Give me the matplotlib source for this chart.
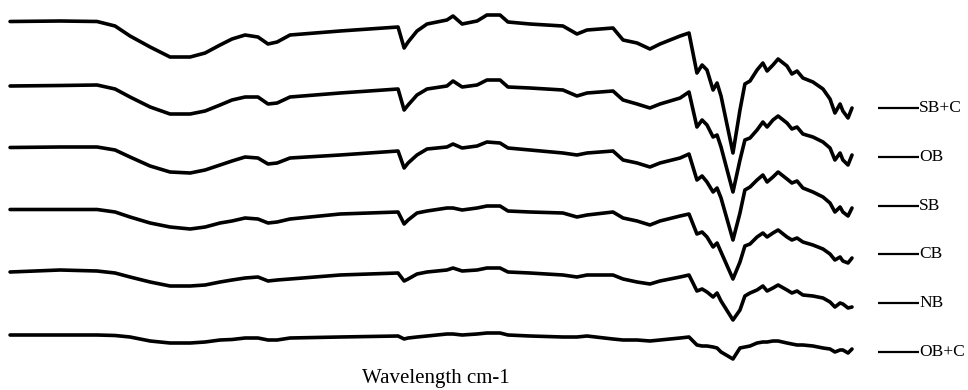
import matplotlib
matplotlib.use("Agg")
import matplotlib.pyplot as plt

# Wavenumber positions (cm-1) at which the spectra were read
wavenumber = [4000, 3786, 3628, 3551, 3487, 3401, 3316, 3230, 3166, 3102, 3051, 2995, 2940,
              2897, 2858, 2803, 2589, 2341, 2315, 2298, 2260, 2217, 2132, 2106, 2067, 2003,
              1961, 1905, 1871, 1777, 1636, 1576, 1533, 1422, 1379, 1319, 1264, 1221, 1135,
              1097, 1063, 1041, 1020, 994, 977, 960, 909, 879, 858, 836, 806, 781, 763, 738,
              716, 678, 657, 635, 610, 567, 524, 494, 473, 451, 439, 417, 400]

# Stacked spectra (arbitrary offset units, increasing downward)
sb_c = [21.5, 21, 21.5, 26, 36, 47, 57, 57, 53, 45, 39, 35, 37, 44, 42, 35, 31, 27, 48, 42, 31,
        24, 20, 16, 24, 21, 15, 15, 22, 24, 26, 34, 30, 28, 40, 43, 49, 44, 36, 33, 73, 65, 70,
        90, 83, 96, 153, 110, 84, 81, 70, 63, 71, 65, 59, 66, 74, 71, 78, 82, 89, 99, 113, 104,
        111, 118, 108]
ob = [86, 85.5, 85, 89, 97, 107, 114, 114, 111, 105, 100, 97, 97, 104, 103, 97, 93, 89, 110, 105,
      95, 89, 86, 81, 87, 85, 80, 80, 87, 88, 90, 96, 93, 91, 100, 104, 108, 104, 98, 92, 127,
      120, 125, 137, 135, 147, 192, 160, 140, 138, 130, 122, 127, 120, 116, 123, 129, 127, 134,
      137, 142, 148, 160, 153, 160, 165, 155]
sb = [147.5, 147, 147, 150, 157, 166, 172, 173, 170, 165, 161, 157, 158, 164, 163, 158, 155, 151,
      168, 163, 155, 149, 147, 144, 148, 146, 142, 143, 148, 150, 153, 155, 153, 151, 160, 163,
      167, 163, 158, 154, 180, 176, 182, 192, 188, 198, 240, 213, 190, 187, 180, 175, 182, 177,
      172, 179, 183, 181, 188, 192, 197, 203, 212, 207, 212, 216, 208]
cb = [209.5, 209.5, 209.5, 212, 217, 223, 227, 229, 227, 223, 221, 218, 219, 223, 222, 219, 214,
      212, 224, 220, 213, 211, 208, 208, 210, 208, 206, 206, 211, 212, 213, 217, 215, 212, 218,
      221, 225, 221, 216, 214, 234, 232, 237, 247, 243, 252, 279, 262, 246, 244, 237, 233, 237,
      233, 230, 237, 240, 238, 242, 245, 249, 254, 260, 257, 261, 263, 258]
nb = [272, 270, 271, 273, 277, 282, 286, 286, 285, 282, 280, 278, 277, 281, 280, 279, 275, 273,
      281, 279, 274, 272, 270, 268, 271, 270, 268, 268, 272, 273, 275, 277, 275, 275, 279, 282,
      284, 281, 277, 275, 291, 289, 292, 297, 293, 301, 320, 310, 296, 293, 290, 286, 291, 288,
      285, 290, 293, 291, 295, 296, 298, 302, 307, 303, 304, 308, 307]
ob_c = [335, 335, 335, 335.5, 337, 341, 343, 343, 342, 340, 339.5, 338, 338, 340, 340, 338, 337,
        336, 339, 338, 337, 336, 334, 334, 335, 334, 333, 333, 335, 336, 337, 337, 336, 339, 340,
        340, 341, 340, 338, 337, 345, 346, 346, 347, 348, 352, 359, 348, 347, 346, 343, 342, 342,
        341, 341, 343, 344, 345, 345, 346, 348, 349, 352, 350, 350, 353, 349]

labels = ["SB+C", "OB", "SB", "CB", "NB", "OB+C"]
series = [sb_c, ob, sb, cb, nb, ob_c]
x_label = "Wavelength cm-1"

fig = plt.figure(figsize=(9.68, 3.90), dpi=100)
ax = fig.add_axes([0, 0, 1, 1])
for ys in series:
    ax.plot(wavenumber, ys, color="black", lw=2.6, solid_joinstyle="round",
            solid_capstyle="round")
ax.set_xlim(4043, -96)
ax.set_ylim(390, 0)
ax.axis("off")

serif = ["Liberation Serif", "DejaVu Serif"]
# legend-like labels at right
top, step = 1 - 108 / 390, 48.8 / 390
for i, lab in enumerate(labels):
    yy = top - i * step
    ax.plot([878 / 968, 919 / 968], [yy, yy], transform=ax.transAxes,
            color="black", lw=1.6, solid_capstyle="butt")
    ax.text(919 / 968, yy, lab, transform=ax.transAxes, ha="left", va="center",
            fontsize=12.5, family=serif, color="black")

ax.text(436 / 968, 1 - 379 / 390, x_label, transform=ax.transAxes, ha="center",
        va="center", fontsize=15, family=serif, color="black")

fig.savefig("out.png", dpi=100, facecolor="white")
